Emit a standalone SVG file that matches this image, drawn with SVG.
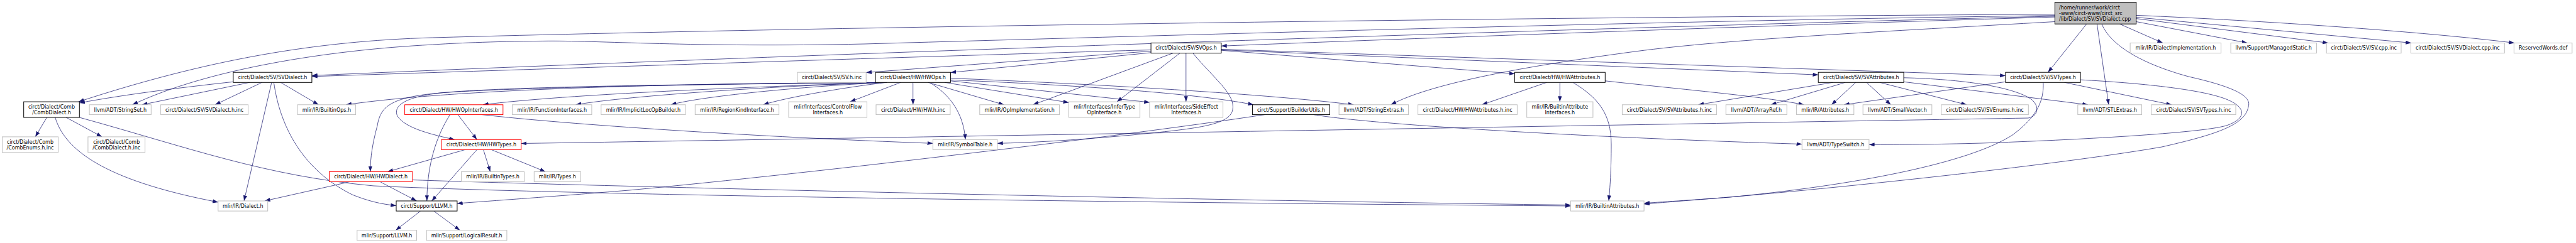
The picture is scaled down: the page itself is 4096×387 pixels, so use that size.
<svg xmlns="http://www.w3.org/2000/svg" width="4096" height="387" viewBox="0 0 4096 387">
<defs>
<marker id="a" markerUnits="userSpaceOnUse" markerWidth="10" markerHeight="8" refX="8.75" refY="3.1" orient="auto"><path d="M0,0 L8.75,3.1 L0,6.2 z" fill="#191970"/></marker>
<style>
.c path{fill:none;stroke:#191970;stroke-width:0.75;marker-end:url(#a)}
rect{fill:#fff;stroke-width:1}
.b rect{stroke:#000}
.g rect{stroke:#bfbfbf}
.r rect{stroke:#ff0000}
.m rect{fill:#bfbfbf;stroke:#000}
text{font-family:"DejaVu Sans",sans-serif;font-size:8px;fill:#000;text-anchor:middle}
.m text{text-anchor:start}
</style>
</defs>
<rect x="0" y="0" width="4096" height="387" style="fill:#fff;stroke:none"/>
<g id="connectors" class="c">
<path d="M3267.4,22.7 C2600,26.5 1400,40 687.5,60 C500,65.5 330,95 125,162"/>
<path d="M3267.4,24.7 C2700,32 1900,55 1375,70 C1100,76 950,64 862.9,65.4 C780,66 720,69 687.5,71.1 C520,80 330,110 210.5,166.8"/>
<path d="M3267.4,25.9 C2600,42 1300,85 495.9,120.3"/>
<path d="M1830.1,79.5 C1400,92 800,112 495.9,121.8"/>
<path d="M3267.4,27.1 C2800,41 2200,63 1941.9,73.3"/>
<path d="M3267.4,34.5 C3000,50 2750,62 2600,82 C2450,102 2280,130 2211.6,166.8"/>
<path d="M3370.4,38.2 L3439,68.4"/>
<path d="M3396.7,34.5 L3573.4,68.4"/>
<path d="M3396.7,29.6 L3702,68.4"/>
<path d="M3396.7,27.5 L3834,68.4"/>
<path d="M3396.7,24.4 C3600,33 3850,50 3998,68.4"/>
<path d="M3317.8,38.2 L3256.4,115.2"/>
<path d="M3334.4,38.2 L3352.9,166.8"/>
<path d="M3341.9,38.2 C3355,70 3400,100 3480,122 C3560,140 3580,155 3575,170 C3570,200 3520,215 3437.5,234 C3300,258 3000,292 2750,314 C2700,318 2650,321 2614.1,323.7"/>
<path d="M3308.1,127.1 C3400,132 3500,142 3540,158 C3575,172 3570,190 3540,200 C3500,212 3300,223 3150,228 C3080,230 3020,230.3 2971.9,230.3"/>
<path d="M3282.7,131.3 L3453,166.8"/>
<path d="M3188.9,130.3 L2932,166.8"/>
<path d="M3248.9,131.3 C3250,160 3240,185 3200,215 C3130,260 2950,295 2750,314 C2700,318 2650,322 2614.1,325"/>
<path d="M3027.1,123.8 C3120,126 3200,138 3230,158 C3242,168 3243,184 3225,188 C2800,195 1500,218 828.7,228.5"/>
<path d="M2934.1,131.3 L2815.8,166.8"/>
<path d="M2950.8,131.3 L2912.2,166.8"/>
<path d="M2967.9,131.3 L3006.5,166.8"/>
<path d="M2989,131.3 L3127.1,166.8"/>
<path d="M3027.1,130.3 L3320,166.8"/>
<path d="M2914.4,131.3 L2700.4,166.8"/>
<path d="M2459.3,131.3 L2356.3,166.8"/>
<path d="M2480.3,131.3 L2480.3,162.1"/>
<path d="M2501,131.3 C2540,155 2562,180 2562,230 C2562,270 2560,300 2558,320"/>
<path d="M2552.3,128.8 C2680,143 2800,153 2868.4,166.8"/>
<path d="M1830.1,81.4 L1377.2,115.5"/>
<path d="M1830.1,83.9 L1511.4,115.5"/>
<path d="M1865.2,84.6 L1642.5,166.8"/>
<path d="M1876.1,84.6 L1776,162.1"/>
<path d="M1885.8,84.6 L1885.8,162.1"/>
<path d="M1896.7,84.6 C1930,125 1965,150 1960,175 C1955,200 1900,205 1800,215 C1700,224 1640,227 1585.9,228.3"/>
<path d="M1941.9,80.2 L2408.4,117.5"/>
<path d="M1941.9,79.5 L2891.2,119.2"/>
<path d="M1941.9,78.5 L3188.9,120.4"/>
<path d="M1511.4,124.6 C1700,132 2000,148 2152.4,166.8"/>
<path d="M1511.4,127.3 C1700,135 1900,148 1993.2,166.8"/>
<path d="M1511.4,128.8 L1828,163"/>
<path d="M1502.1,131.3 L1699.4,163.3"/>
<path d="M1475.8,131.3 L1596.4,166.8"/>
<path d="M1451.7,131.3 L1451.7,166.8"/>
<path d="M1478,131.3 C1510,150 1532,180 1535,222.3"/>
<path d="M1432,131.3 L1351.7,162.1"/>
<path d="M1410,131.3 C1200,138 900,150 768,166.8"/>
<path d="M1410,131.3 C1250,136 1000,152 915.5,166.8"/>
<path d="M1410,131.3 C1300,136 1120,152 1066.8,166.8"/>
<path d="M1410,131.3 C1350,138 1250,155 1213.6,166.8"/>
<path d="M1410,131.3 C1000,133 700,145 550.2,166.8"/>
<path d="M1410,131.3 C1100,134 800,140 700,148 C620,155 605,170 600,200 C592,230 589,250 588.8,273.4"/>
<path d="M1410,131.3 C1100,134 800,138 700,148 C640,155 625,170 632,185 C645,205 690,215 722.9,222.3"/>
<path d="M728.1,182.6 L758.3,222.3"/>
<path d="M715.6,182.6 C695,215 679,260 678.8,320"/>
<path d="M766.7,182.6 C900,198 1200,218 1483.3,228.3"/>
<path d="M739.6,238.4 L616.3,273.4"/>
<path d="M758.3,238.4 L686.5,320"/>
<path d="M768.6,238.4 L779.6,273.4"/>
<path d="M781.3,238.4 L867.3,273.4"/>
<path d="M556.8,289.4 L420.9,320"/>
<path d="M604.2,289.4 L662.5,320"/>
<path d="M655.9,286.5 C800,292 1700,316 2497.4,326.5"/>
<path d="M126.3,187 C300,235 420,280 594,296 C900,310 1700,322 2497.4,328"/>
<path d="M74.5,187 L56.1,217.9"/>
<path d="M105.2,187 L162.2,217.9"/>
<path d="M87.7,187 C105,245 180,290 346.8,322"/>
<path d="M370.9,130.3 C300,138 200,150 126.3,164"/>
<path d="M396.8,131.3 L225.8,166.8"/>
<path d="M416.5,131.3 L342,166.8"/>
<path d="M446.3,131.3 L506.4,166.8"/>
<path d="M431.9,131.3 L388,320"/>
<path d="M435.4,131.3 C445,200 480,270 560,310 C585,320 605,325 630,327.5"/>
<path d="M668.6,336.1 L629.2,366.7"/>
<path d="M689.7,336.1 L731.3,366.7"/>
<path d="M2010.8,182.6 C1800,215 1300,275 1000,303 C880,313 780,320 726.9,324"/>
<path d="M2088.8,182.6 C2180,198 2500,218 2865.3,229.5"/>
</g>
<g id="n_main" class="m"><rect x="3267.4" y="3.5" width="129.3" height="34.7"/><text x="3274" y="14.8">/home/runner/work/circt</text><text x="3274" y="23.7">-www/circt-www/circt_src</text><text x="3274" y="32.6">/lib/Dialect/SV/SVDialect.cpp</text></g>
<g id="n_svops" class="b"><rect x="1830.1" y="68.4" width="111.8" height="16.2"/><text x="1886" y="79.4">circt/Dialect/SV/SVOps.h</text></g>
<g id="n_dialimpl" class="g"><rect x="3387.1" y="68.4" width="144.5" height="16.2"/><text x="3459.35" y="79.4">mlir/IR/DialectImplementation.h</text></g>
<g id="n_managed" class="g"><rect x="3547.1" y="68.4" width="136.3" height="16.2"/><text x="3615.25" y="79.4">llvm/Support/ManagedStatic.h</text></g>
<g id="n_svcppinc" class="g"><rect x="3699.2" y="68.4" width="118.8" height="16.2"/><text x="3758.6" y="79.4">circt/Dialect/SV/SV.cpp.inc</text></g>
<g id="n_svdialcppinc" class="g"><rect x="3833.4" y="68.4" width="148.9" height="16.2"/><text x="3907.85" y="79.4">circt/Dialect/SV/SVDialect.cpp.inc</text></g>
<g id="n_reserved" class="g"><rect x="3997.4" y="68.4" width="92.4" height="16.2"/><text x="4043.6" y="79.4">ReservedWords.def</text></g>
<g id="n_svdialect" class="b"><rect x="370.9" y="115.2" width="125" height="16.1"/><text x="433.4" y="126.1">circt/Dialect/SV/SVDialect.h</text></g>
<g id="n_svhinc" class="g"><rect x="1268" y="115.2" width="109.2" height="16.1"/><text x="1322.6" y="126.1">circt/Dialect/SV/SV.h.inc</text></g>
<g id="n_hwops" class="b"><rect x="1392.1" y="115.2" width="119.3" height="16.1"/><text x="1451.75" y="126.1">circt/Dialect/HW/HWOps.h</text></g>
<g id="n_hwattr" class="b"><rect x="2408.4" y="115.2" width="143.9" height="16.1"/><text x="2480.35" y="126.1">circt/Dialect/HW/HWAttributes.h</text></g>
<g id="n_svattr" class="b"><rect x="2891.2" y="115.2" width="135.9" height="16.1"/><text x="2959.15" y="126.1">circt/Dialect/SV/SVAttributes.h</text></g>
<g id="n_svtypes" class="b"><rect x="3188.9" y="115.2" width="119.2" height="16.1"/><text x="3248.5" y="126.1">circt/Dialect/SV/SVTypes.h</text></g>
<g id="n_combdialect" class="b"><rect x="37.7" y="162.1" width="88.6" height="24.9"/><text x="82" y="173">circt/Dialect/Comb</text><text x="82" y="181.8">/CombDialect.h</text></g>
<g id="n_stringset" class="g"><rect x="142.1" y="166.8" width="98.2" height="15.8"/><text x="191.2" y="177.6">llvm/ADT/StringSet.h</text></g>
<g id="n_svdialecthinc" class="g"><rect x="255.6" y="166.8" width="139" height="15.8"/><text x="325.1" y="177.6">circt/Dialect/SV/SVDialect.h.inc</text></g>
<g id="n_builtinops" class="g"><rect x="473.1" y="166.8" width="92.5" height="15.8"/><text x="519.35" y="177.6">mlir/IR/BuiltinOps.h</text></g>
<g id="n_hwopif" class="r"><rect x="643.6" y="166.8" width="156.2" height="15.8"/><text x="721.7" y="177.6">circt/Dialect/HW/HWOpInterfaces.h</text></g>
<g id="n_funcif" class="g"><rect x="814.6" y="166.8" width="126.3" height="15.8"/><text x="877.75" y="177.6">mlir/IR/FunctionInterfaces.h</text></g>
<g id="n_implicit" class="g"><rect x="955.8" y="166.8" width="134.2" height="15.8"/><text x="1022.9" y="177.6">mlir/IR/ImplicitLocOpBuilder.h</text></g>
<g id="n_regionkind" class="g"><rect x="1105.3" y="166.8" width="133.3" height="15.8"/><text x="1171.95" y="177.6">mlir/IR/RegionKindInterface.h</text></g>
<g id="n_controlflow" class="g"><rect x="1254" y="162.1" width="124.5" height="24.9"/><text x="1316.25" y="173">mlir/Interfaces/ControlFlow</text><text x="1316.25" y="181.8">Interfaces.h</text></g>
<g id="n_hwhinc" class="g"><rect x="1393" y="166.8" width="117.9" height="15.8"/><text x="1451.95" y="177.6">circt/Dialect/HW/HW.h.inc</text></g>
<g id="n_opimpl" class="g"><rect x="1557.8" y="166.8" width="126.8" height="15.8"/><text x="1621.2" y="177.6">mlir/IR/OpImplementation.h</text></g>
<g id="n_infertype" class="g"><rect x="1699.4" y="162.1" width="113.2" height="24.9"/><text x="1756" y="173">mlir/Interfaces/InferType</text><text x="1756" y="181.8">OpInterface.h</text></g>
<g id="n_sideeffect" class="g"><rect x="1827.9" y="162.1" width="116.7" height="24.9"/><text x="1886.25" y="173">mlir/Interfaces/SideEffect</text><text x="1886.25" y="181.8">Interfaces.h</text></g>
<g id="n_builderutils" class="b"><rect x="1991.4" y="166.8" width="122.9" height="15.8"/><text x="2052.85" y="177.6">circt/Support/BuilderUtils.h</text></g>
<g id="n_stringextras" class="g"><rect x="2129.1" y="166.8" width="110.5" height="15.8"/><text x="2184.35" y="177.6">llvm/ADT/StringExtras.h</text></g>
<g id="n_hwattrinc" class="g"><rect x="2254.6" y="166.8" width="157.8" height="15.8"/><text x="2333.5" y="177.6">circt/Dialect/HW/HWAttributes.h.inc</text></g>
<g id="n_builtinattrif" class="g"><rect x="2427.7" y="162.1" width="105.2" height="24.9"/><text x="2480.3" y="173">mlir/IR/BuiltinAttribute</text><text x="2480.3" y="181.8">Interfaces.h</text></g>
<g id="n_svattrinc" class="g"><rect x="2579.4" y="166.8" width="150" height="15.8"/><text x="2654.4" y="177.6">circt/Dialect/SV/SVAttributes.h.inc</text></g>
<g id="n_arrayref" class="g"><rect x="2744.3" y="166.8" width="96.9" height="15.8"/><text x="2792.75" y="177.6">llvm/ADT/ArrayRef.h</text></g>
<g id="n_attributes" class="g"><rect x="2856.6" y="166.8" width="91.2" height="15.8"/><text x="2902.2" y="177.6">mlir/IR/Attributes.h</text></g>
<g id="n_smallvector" class="g"><rect x="2962.2" y="166.8" width="109.6" height="15.8"/><text x="3017" y="177.6">llvm/ADT/SmallVector.h</text></g>
<g id="n_svenums" class="g"><rect x="3086.8" y="166.8" width="138.5" height="15.8"/><text x="3156.05" y="177.6">circt/Dialect/SV/SVEnums.h.inc</text></g>
<g id="n_stlextras" class="g"><rect x="3303.8" y="166.8" width="101.7" height="15.8"/><text x="3354.65" y="177.6">llvm/ADT/STLExtras.h</text></g>
<g id="n_svtypesinc" class="g"><rect x="3420.8" y="166.8" width="134.2" height="15.8"/><text x="3487.9" y="177.6">circt/Dialect/SV/SVTypes.h.inc</text></g>
<g id="n_combenums" class="g"><rect x="3.5" y="217.9" width="89" height="24.9"/><text x="48" y="228.9">circt/Dialect/Comb</text><text x="48" y="237.7">/CombEnums.h.inc</text></g>
<g id="n_combdialectinc" class="g"><rect x="139.9" y="217.9" width="90.7" height="24.9"/><text x="185.25" y="228.9">circt/Dialect/Comb</text><text x="185.25" y="237.7">/CombDialect.h.inc</text></g>
<g id="n_hwtypes" class="r"><rect x="701.9" y="222.3" width="126.8" height="16.1"/><text x="765.3" y="233.2">circt/Dialect/HW/HWTypes.h</text></g>
<g id="n_symboltable" class="g"><rect x="1483.3" y="222.3" width="102.6" height="16.1"/><text x="1534.6" y="233.2">mlir/IR/SymbolTable.h</text></g>
<g id="n_typeswitch" class="g"><rect x="2865.3" y="222.3" width="106.6" height="16.1"/><text x="2918.6" y="233.2">llvm/ADT/TypeSwitch.h</text></g>
<g id="n_hwdialect" class="r"><rect x="523.5" y="273.4" width="132.4" height="16"/><text x="589.7" y="284.3">circt/Dialect/HW/HWDialect.h</text></g>
<g id="n_builtintypes" class="g"><rect x="733.6" y="273.4" width="99.9" height="16"/><text x="783.55" y="284.3">mlir/IR/BuiltinTypes.h</text></g>
<g id="n_types" class="g"><rect x="849.3" y="273.4" width="74.1" height="16"/><text x="886.35" y="284.3">mlir/IR/Types.h</text></g>
<g id="n_irdialect" class="g"><rect x="346.8" y="320" width="78.9" height="16.1"/><text x="386.25" y="330.9">mlir/IR/Dialect.h</text></g>
<g id="n_circtllvm" class="b"><rect x="630" y="320" width="96.9" height="16.1"/><text x="678.45" y="330.9">circt/Support/LLVM.h</text></g>
<g id="n_builtinattr" class="g"><rect x="2497.4" y="320" width="116.7" height="16.1"/><text x="2555.75" y="330.9">mlir/IR/BuiltinAttributes.h</text></g>
<g id="n_mlirllvm" class="g"><rect x="567.8" y="366.7" width="94.7" height="16.2"/><text x="615.15" y="377.7">mlir/Support/LLVM.h</text></g>
<g id="n_logicalresult" class="g"><rect x="678.3" y="366.7" width="127.6" height="16.2"/><text x="742.1" y="377.7">mlir/Support/LogicalResult.h</text></g>
</svg>
